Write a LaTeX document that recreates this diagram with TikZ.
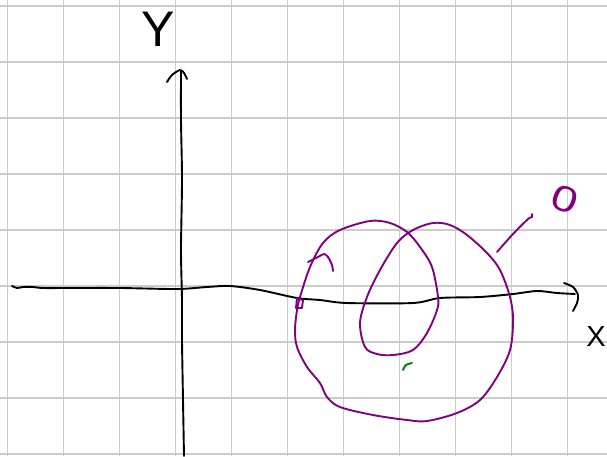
\documentclass[tikz,border=0pt]{standalone}
\usepackage{fontspec}
\setmainfont{Liberation Sans}
\definecolor{inkpurple}{RGB}{128,0,128}
\definecolor{inkgreen}{RGB}{0,128,0}
\definecolor{gridgray}{RGB}{204,204,204}
\begin{document}
\begin{tikzpicture}[x=1pt,y=-1pt,
  gridline/.style={draw=gridgray,line width=1.8pt},
  ink/.style={draw=black,line width=1.9pt,line cap=round,line join=round},
  pink/.style={draw=inkpurple,line width=1.9pt,line cap=round,line join=round},
  greenink/.style={draw=inkgreen,line width=1.9pt,line cap=round},
  hand/.style={inner sep=0pt,font=\fontsize{#1}{#1}\selectfont}]
\useasboundingbox (0,0) rectangle (607,456);
% grid
\foreach \k in {0,...,10} \draw[gridline] (7.5+56*\k,0) -- (7.5+56*\k,456);
\foreach \k in {0,...,8} \draw[gridline] (0,6+56*\k) -- (607,6+56*\k);
% Y axis
\coordinate (ybot) at (184,456);
\coordinate (ytop) at (181,71);
\draw[ink] plot[smooth] coordinates {(184,456) (183,400) (182,340) (182,300) (181,250) (182,180) (181,120) (181,71)};
\draw[ink] plot[smooth] coordinates {(167,82) (172,75) (180,70) (184,73) (187,79)};
% X axis
\coordinate (xleft) at (12,286);
\coordinate (xright) at (575,294);
\draw[ink] plot[smooth] coordinates {(12,286) (17,288) (23,287) (33,287) (43,288) (67,288) (120,288) (177,289) (207,287) (230,286) (260,290) (297,298) (320,300) (347,303) (413,303) (440,298) (480,297) (513,294) (537,291) (557,293) (575,294)};
\draw[ink] plot[smooth] coordinates {(564,283) (573,287) (578,295) (577,303) (573,311)};
% labels
\node[hand=50] (ylab) at (158,29) {Y};
\node[hand=29] (xlab) at (596,337) {X};
% purple curve
\draw[pink] plot[smooth cycle,tension=0.55] coordinates {
(297,310) (300,297) (310,267) (323,243) (340,230) (370,221) (390,223) (407,232) (420,247) (432,267) (438,297) (437,310) (427,333) (413,350) (393,355) (377,354) (365,347) (360,323) (367,297) (380,270) (397,243) (413,230) (433,223) (450,225) (467,235) (487,253) (500,270) (510,297) (513,320) (510,350) (497,377) (480,400) (457,413) (427,421) (407,420) (373,415) (340,407) (327,397) (320,383) (307,367) (297,347) (295,330)};
\draw[pink] (297,298) -- (303,300) -- (302,308) -- (296,308) -- cycle;
\draw[pink] plot[smooth] coordinates {(308,262) (318,257) (324,254) (328,257) (332,265) (333,271)};
\draw[pink] plot[smooth] coordinates {(497,252) (513,234) (528,219) (532,217) (532,214)};
\node[hand=36,text=inkpurple,rotate=-20,xscale=1.3] (zero) at (565,199) {0};
% green mark
\draw[greenink] plot[smooth] coordinates {(403,370) (406,365) (412,363)};
\end{tikzpicture}
\end{document}
